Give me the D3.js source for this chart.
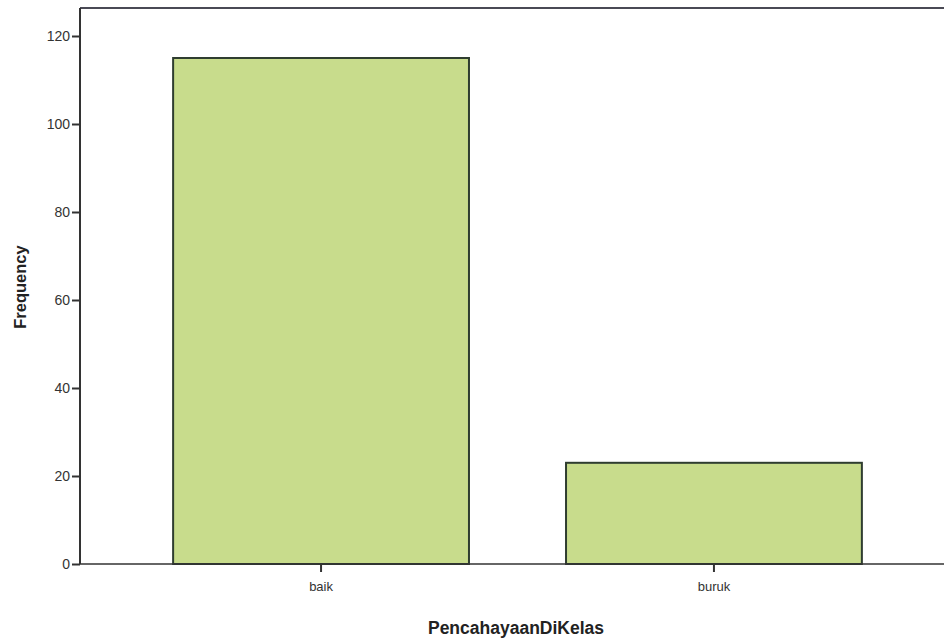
<!DOCTYPE html>
<html><head><meta charset="utf-8">
<script src="https://cdn.jsdelivr.net/npm/d3@7"></script>
<style>body{margin:0;background:#fff}svg{display:block}text{font-family:"Liberation Sans",Arial,sans-serif}</style>
</head><body>
<svg id="c" width="944" height="642"></svg>
<script>
const categories = ["baik", "buruk"];
const frequencies = [115, 23];
const yTicks = [0, 20, 40, 60, 80, 100, 120];
const xTitle = "PencahayaanDiKelas";
const yTitle = "Frequency";

(function () {
const svg = d3.select("#c");
const plotLeft = 80, plotTop = 8, plotBottom = 564, plotRightEdge = 955;

const x = d3.scaleBand().domain(categories).range([plotLeft, plotRightEdge])
  .paddingInner(0.247).paddingOuter(0.237);
const y = d3.scaleLinear().domain([0, 120]).range([plotBottom, 36]);

// top frame line
svg.append("line").attr("x1", plotLeft).attr("x2", 944).attr("y1", plotTop).attr("y2", plotTop)
  .attr("stroke", "#4a4a55").attr("stroke-width", 2);

// bars
svg.selectAll("rect.bar").data(categories).join("rect")
  .attr("class", "bar")
  .attr("x", d => x(d)).attr("width", x.bandwidth())
  .attr("y", (d, i) => y(frequencies[i]))
  .attr("height", (d, i) => y(0) - y(frequencies[i]))
  .attr("fill", "#c8dc8c").attr("stroke", "#2f3d30").attr("stroke-width", 2);

// y axis
const yAxis = svg.append("g").attr("transform", `translate(${plotLeft},0)`)
  .call(d3.axisLeft(y).tickValues(yTicks).tickSize(8).tickPadding(2));
yAxis.select(".domain").attr("d", `M0,${plotTop}V${plotBottom}`).attr("stroke", "#333").attr("stroke-width", 2);
yAxis.selectAll(".tick line").attr("stroke", "#333").attr("stroke-width", 2);
yAxis.selectAll(".tick text").attr("font-size", 14).attr("fill", "#333")
  .style("font-family", '"Liberation Sans",Arial,sans-serif');

// x axis
const xAxis = svg.append("g").attr("transform", `translate(0,${plotBottom})`)
  .call(d3.axisBottom(x).tickSize(8).tickPadding(10));
xAxis.select(".domain").attr("d", `M${plotLeft},0H944`).attr("stroke", "#333").attr("stroke-width", 1.5);
xAxis.selectAll(".tick line").attr("stroke", "#333").attr("stroke-width", 2);
xAxis.selectAll(".tick text").attr("font-size", 13).attr("fill", "#333")
  .style("font-family", '"Liberation Sans",Arial,sans-serif');

// titles
svg.append("text").attr("x", 516).attr("y", 634).attr("text-anchor", "middle")
  .attr("font-size", 17.5).attr("font-weight", "bold").attr("fill", "#222").text(xTitle);
svg.append("text").attr("transform", "translate(26,287) rotate(-90)").attr("text-anchor", "middle")
  .attr("font-size", 16.5).attr("font-weight", "bold").attr("fill", "#222").text(yTitle);
})();
</script>
</body></html>
